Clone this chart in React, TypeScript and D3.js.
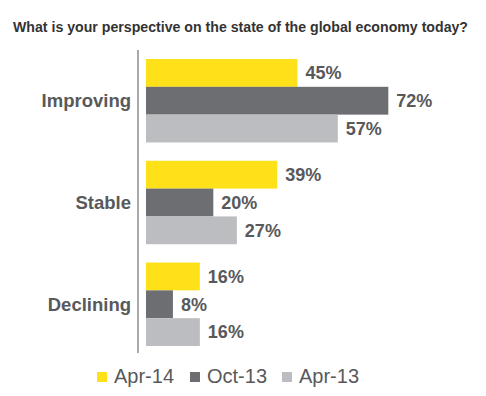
import React from "react";
import * as d3 from "d3";

const categories = ["Improving", "Stable", "Declining"];
const seriesNames = ["Apr-14", "Oct-13", "Apr-13"];
const apr14 = [45, 39, 16];
const oct13 = [72, 20, 8];
const apr13 = [57, 27, 16];
const colors = ["#ffe11a", "#6d6e71", "#bcbdc0"];
const title = "What is your perspective on the state of the global economy today?";

export default function App() {
  const W = 486, H = 396;
  const series = [apr14, oct13, apr13];
  const x = d3.scaleLinear().domain([0, 72]).range([146, 388.3]);
  const y0 = d3.scaleBand<string>().domain(categories).range([59, 346]).paddingInner(0.18).paddingOuter(0);
  const y1 = d3.scaleBand<string>().domain(seriesNames).range([0, y0.bandwidth()]);
  const textColor = "#58595b";
  const font = "'Liberation Sans', Arial, sans-serif";
  return (
    <svg width={W} height={H} style={{ position: "absolute", left: 0, top: 0, background: "#fff" }} fontFamily={font}>
      <text x={13} y={32} fontSize={14} fontWeight="bold" fill="#333" textLength={455} lengthAdjust="spacingAndGlyphs">{title}</text>
      <line x1={138} x2={138} y1={50} y2={353} stroke="#aaa" strokeWidth={2} />
      {categories.map((c, ci) => (
        <g key={c} transform={`translate(0,${y0(c)})`}>
          <text x={131} y={y0.bandwidth() / 2} dy="0.35em" textAnchor="end" fontSize={18.5} fontWeight="bold" fill={textColor}>{c}</text>
          {seriesNames.map((s, si) => {
            const v = series[si][ci];
            const yy = y1(s)!;
            return (
              <g key={s}>
                <rect x={x(0)} y={yy} width={x(v) - x(0)} height={y1.bandwidth()} fill={colors[si]} />
                <text x={x(v) + 8} y={yy + y1.bandwidth() / 2} dy="0.35em" fontSize={18} fontWeight="bold" fill={textColor}>{v}%</text>
              </g>
            );
          })}
        </g>
      ))}
      {seriesNames.map((s, si) => {
        const lx = [97, 190, 282][si];
        return (
          <g key={s}>
            <rect x={lx} y={372} width={10} height={10} fill={colors[si]} />
            <text x={lx + 17} y={383} fontSize={20} fill={textColor}>{s}</text>
          </g>
        );
      })}
    </svg>
  );
}
